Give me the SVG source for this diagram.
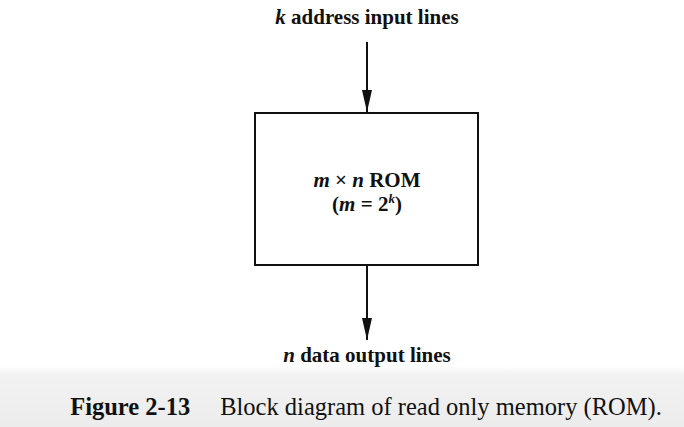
<svg xmlns="http://www.w3.org/2000/svg" width="684" height="427" viewBox="0 0 684 427">
<defs>
<linearGradient id="bg" x1="0" y1="0" x2="0" y2="1">
<stop offset="0" stop-color="#ffffff"/>
<stop offset="0.15" stop-color="#f2f2f2"/>
<stop offset="1" stop-color="#ececec"/>
</linearGradient>
<marker id="ah" markerWidth="22" markerHeight="10" refX="22" refY="5" orient="auto" markerUnits="userSpaceOnUse" viewBox="0 0 22 10">
<path d="M0,0 L22,5 L0,10 Z" fill="#111"/>
</marker>
</defs>
<style>
text{font-family:"Liberation Serif","Times New Roman",serif;fill:#111;text-anchor:middle}
.lbl{font-size:21px;font-weight:bold}
.cap{font-size:24.5px;font-weight:bold}
.box{fill:#fff;stroke:#111;stroke-width:2}
.conn{stroke:#111;stroke-width:2;fill:none}
</style>
<rect x="0" y="0" width="684" height="427" fill="#fff"/>
<rect x="0" y="366" width="684" height="61" fill="url(#bg)"/>
<g id="connectors">
<line class="conn" x1="367" y1="42" x2="367" y2="112" marker-end="url(#ah)"/>
<line class="conn" x1="367" y1="265" x2="367" y2="340" marker-end="url(#ah)"/>
</g>
<g id="input-label">
<text class="lbl" x="367" y="24"><tspan font-style="italic">k</tspan> address input lines</text>
</g>
<g id="rom">
<rect class="box" x="255" y="113" width="223" height="152"/>
<text class="lbl" x="367" y="187"><tspan font-style="italic">m</tspan> × <tspan font-style="italic">n</tspan> ROM</text>
<text class="lbl" x="367" y="211">(<tspan font-style="italic">m</tspan> = 2<tspan font-size="13" dy="-8" font-style="italic">k</tspan><tspan dy="8">)</tspan></text>
</g>
<g id="output-label">
<text class="lbl" x="367" y="362"><tspan font-style="italic">n</tspan> data output lines</text>
</g>
<g id="caption">
<text class="cap" x="366" y="415">Figure 2-13<tspan dx="30" font-weight="normal">Block diagram of read only memory (ROM).</tspan></text>
</g>
</svg>
